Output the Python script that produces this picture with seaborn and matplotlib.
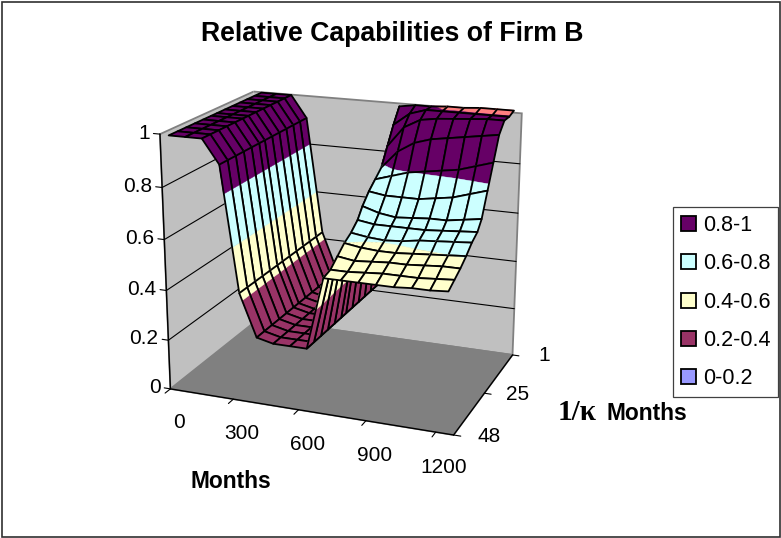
import numpy as np
import matplotlib
matplotlib.use("Agg")
import matplotlib.pyplot as plt
from matplotlib.patches import Patch, Rectangle
from mpl_toolkits.mplot3d import Axes3D, proj3d
from mpl_toolkits.mplot3d.art3d import Poly3DCollection
import seaborn as sns

# ── data ──
months = [0, 75, 150, 225, 300, 375, 450, 525, 600, 675, 750, 825, 900, 975, 1050, 1125, 1200]
kappas = [48, 44, 40, 36, 32, 28, 25, 21, 17, 13, 9, 5, 1]

# left part (0-600 months) hardly changes with kappa
left_profile = [1.0, 1.0, 1.0, 0.91, 0.43, 0.265, 0.25, 0.25, 0.25]

# right part (675-1200 months), one row per kappa, front to back
right_surface = [
    [0.53, 0.53, 0.53, 0.53, 0.53, 0.535, 0.535, 0.54],
    [0.54, 0.54, 0.545, 0.55, 0.55, 0.55, 0.555, 0.56],
    [0.57, 0.56, 0.565, 0.57, 0.57, 0.575, 0.58, 0.58],
    [0.60, 0.59, 0.585, 0.585, 0.59, 0.595, 0.60, 0.605],
    [0.62, 0.61, 0.605, 0.61, 0.62, 0.625, 0.63, 0.635],
    [0.65, 0.64, 0.64, 0.64, 0.64, 0.645, 0.65, 0.655],
    [0.69, 0.67, 0.66, 0.665, 0.67, 0.67, 0.68, 0.69],
    [0.73, 0.72, 0.72, 0.72, 0.73, 0.74, 0.76, 0.78],
    [0.76, 0.78, 0.80, 0.81, 0.82, 0.83, 0.85, 0.87],
    [0.79, 0.86, 0.90, 0.92, 0.93, 0.94, 0.95, 0.96],
    [0.86, 0.94, 0.975, 0.985, 0.99, 0.995, 1.0, 1.0],
    [0.93, 0.98, 1.0, 1.0, 1.0, 1.0, 1.0, 1.0],
    [0.99, 1.0, 1.0, 1.005, 1.005, 1.01, 1.01, 1.01],
]

band_labels = ["0.8-1", "0.6-0.8", "0.4-0.6", "0.2-0.4", "0-0.2"]
band_colors = ["#660066", "#CCFFFF", "#FFFFCC", "#993366", "#9999FF"]
band_edges = [0.8, 0.6, 0.4, 0.2, 0.0]
over_color = "#FF8080"

month_ticks = [0, 300, 600, 900, 1200]
kappa_ticks = [1, 25, 48]
z_ticks = [0, 0.2, 0.4, 0.6, 0.8, 1]
z_ticklabels = ["0", "0.2", "0.4", "0.6", "0.8", "1"]

sns.set_theme(style="white")
plt.rcParams["font.family"] = ["Liberation Sans", "DejaVu Sans"]
palette = sns.color_palette(band_colors)

W, H = 781, 538
fig = plt.figure(figsize=(W / 100, H / 100), dpi=100)
fig.patch.set_facecolor("white")

# view fitted to the box corners, axes square placed in pixels
side = 433.5
ax = fig.add_axes([123.77 / W, (H - 473.5) / H, side / W, side / H], projection="3d")
ax.computed_zorder = False
ax.patch.set_alpha(0)
ax.view_init(18.03, -68.79)
ax.set_proj_type("persp", focal_length=0.615)
ax.set_box_aspect((1.1326, 0.8082, 1))
x0, x1 = -37.5, 1237.5
ax.set_xlim(x0, x1, view_margin=0)
ax.set_ylim(48, 1, view_margin=0)
ax.set_zlim(0, 1, view_margin=0)

ax.grid(False)
ax.set_xticks([])
ax.set_yticks([])
ax.set_zticks([])
ax.xaxis.set_pane_color("#C0C0C0")
ax.yaxis.set_pane_color("#C0C0C0")
ax.zaxis.set_pane_color("#808080")
for axis in (ax.xaxis, ax.yaxis, ax.zaxis):
    axis.pane.set_edgecolor("#808080")
    axis.pane.set_linewidth(1.3)
    axis.line.set_color("black")
    axis.line.set_linewidth(1.0)
ax.zaxis.line.set_color((0, 0, 0, 0))


def tick_text(x, y, z, s, ha="center"):
    # flat text at the projected spot of a 3d point
    u, v, _ = proj3d.proj_transform(x, y, z, ax.get_proj())
    ax.text2D(u, v, s, transform=ax.transData, fontsize=15, ha=ha, va="center", color="black")


# the z axis sits on the front left corner
ax.plot([x0, x0], [48, 48], [0, 1], color="black", lw=1.0, zorder=2)

# ticks and their labels
for e, m in zip(np.array(month_ticks) - 37.5, month_ticks):
    ax.plot([e, e], [48, 50.5], [0, 0], color="black", lw=0.8, zorder=1)
    tick_text(m, 48, -0.135, str(m))
for k in kappa_ticks:
    ax.plot([x1, x1 + 30], [k, k], [0, 0], color="black", lw=0.8, zorder=1)
    tick_text(x1 + 145, k, 0.015, str(k))
for z, lab in zip(z_ticks, z_ticklabels):
    ax.plot([x0, x0 - 30], [48, 48], [z, z], color="black", lw=0.8, zorder=1)
    tick_text(x0 - 48, 48, z, lab, ha="right")

# wall gridlines
for z in z_ticks[1:-1]:
    ax.plot([x0, x0], [48, 1], [z, z], color="black", lw=0.8, zorder=1)
    ax.plot([x0, x1], [1, 1], [z, z], color="black", lw=0.8, zorder=1)

# surface values
grid = []
for row in right_surface:
    grid.append(left_profile + row)
grid = np.array(grid)


def clip_z(poly, level, keep_above):
    out = []
    for a, b in zip(poly, poly[1:] + poly[:1]):
        ina = a[2] >= level if keep_above else a[2] <= level
        inb = b[2] >= level if keep_above else b[2] <= level
        if ina:
            out.append(a)
        if ina != inb:
            t = (level - a[2]) / (b[2] - a[2])
            out.append(tuple(a[i] + t * (b[i] - a[i]) for i in range(3)))
    return out


bands = [(e, 1.001 if i == 0 else band_edges[i - 1], palette[i]) for i, e in enumerate(band_edges)]
bands.append((1.001, 1.2, over_color))

# painter order, the far cells first
order = 10
for i in range(len(months) - 1):
    for j in range(len(kappas) - 2, -1, -1):
        quad = [
            (months[i], kappas[j], grid[j, i]),
            (months[i + 1], kappas[j], grid[j, i + 1]),
            (months[i + 1], kappas[j + 1], grid[j + 1, i + 1]),
            (months[i], kappas[j + 1], grid[j + 1, i]),
        ]
        polys, cols = [], []
        for low, high, col in bands:
            piece = clip_z(quad, low, True)
            if len(piece) > 2:
                piece = clip_z(piece, high, False)
            if len(piece) > 2:
                polys.append(piece)
                cols.append(col)
        fill = Poly3DCollection(polys, facecolors=cols, edgecolors=cols, linewidths=0.3, zorder=order)
        ax.add_collection3d(fill, autolim=False)
        outline = Poly3DCollection([quad], facecolors=(0, 0, 0, 0), edgecolors="black", linewidths=1.3, zorder=order + 1)
        ax.add_collection3d(outline, autolim=False)
        order += 2

# title and axis titles
fig.text(392.5 / W, 1 - 34 / H, "Relative Capabilities of Firm B", fontsize=19.2, fontweight="bold",
         ha="center", va="center", color="black")
fig.text(231 / W, 1 - 481 / H, "Months", fontsize=16.4, fontweight="bold", ha="center", va="center", color="black")
fig.text(558 / W, 1 - 413 / H, "1/κ", fontsize=21, fontweight="bold", family=["Liberation Serif", "DejaVu Serif"],
         ha="left", va="center", color="black")
fig.text(606 / W, 1 - 413 / H, "Months", fontsize=16.4, fontweight="bold", ha="left", va="center", color="black")

handles = [Patch(facecolor=c, edgecolor="black", linewidth=1.3, label=l) for c, l in zip(palette, band_labels)]
leg = fig.legend(handles=handles, loc="upper left", bbox_to_anchor=(673 / W, 1 - 207 / H), borderaxespad=0,
                 fontsize=15.5, frameon=True, fancybox=False, edgecolor="#404040", framealpha=1,
                 labelspacing=0.8, handlelength=0.7, handleheight=0.7, handletextpad=0.3,
                 borderpad=0.38, labelcolor="black")
leg.get_frame().set_linewidth(0.9)

fig.add_artist(Rectangle((1.5 / W, 1.5 / H), (W - 3) / W, (H - 3) / H, transform=fig.transFigure,
                         fill=False, edgecolor="#303030", linewidth=1.2))

fig.savefig("out.png", dpi=100)
